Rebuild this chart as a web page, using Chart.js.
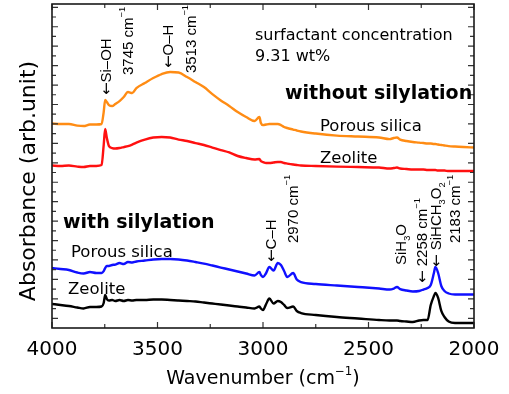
<!DOCTYPE html>
<html>
<head>
<meta charset="utf-8">
<script src="https://cdn.jsdelivr.net/npm/chart.js@4.4.1/dist/chart.umd.min.js"></script>
<style>
  html, body { margin: 0; padding: 0; background: #fff; }
  canvas { display: block; }
</style>
</head>
<body>
<canvas id="ftir" width="509" height="394"></canvas>
<script>
// FT-IR spectra, wavenumber in cm^-1, absorbance in arbitrary units (stacked)
const wavenumbers = [
  4000, 3960, 3920, 3880, 3850, 3820, 3790, 3765, 3755, 3748,
  3740, 3730, 3715, 3700, 3680, 3660, 3640, 3620, 3600, 3560,
  3520, 3480, 3440, 3400, 3360, 3320, 3280, 3240, 3200, 3160,
  3120, 3080, 3040, 3017, 3010, 3000, 2985, 2970, 2950, 2930,
  2915, 2900, 2885, 2857, 2840, 2820, 2750, 2650, 2550, 2450,
  2400, 2380, 2365, 2350, 2320, 2290, 2260, 2240, 2220, 2205,
  2190, 2183, 2170, 2155, 2140, 2120, 2090, 2050, 2000
];

// without silylation
const porousSilica = [
  2.104, 2.099, 2.099, 2.083, 2.078, 2.094, 2.094, 2.099, 2.222, 2.346,
  2.325, 2.294, 2.284, 2.305, 2.335, 2.377, 2.428, 2.418, 2.469, 2.521,
  2.572, 2.613, 2.634, 2.629, 2.582, 2.531, 2.479, 2.407, 2.342, 2.285,
  2.222, 2.171, 2.130, 2.171, 2.109, 2.088, 2.094, 2.099, 2.099, 2.099,
  2.088, 2.068, 2.058, 2.042, 2.032, 2.022, 2.001, 1.980, 1.970, 1.960,
  1.944, 1.955, 1.960, 1.939, 1.924, 1.914, 1.908, 1.903, 1.898, 1.898,
  1.893, 1.893, 1.888, 1.883, 1.878, 1.872, 1.867, 1.862, 1.857
];
const zeolite = [
  1.672, 1.667, 1.672, 1.661, 1.656, 1.667, 1.667, 1.677, 1.883, 2.047,
  1.955, 1.872, 1.852, 1.847, 1.852, 1.862, 1.872, 1.888, 1.908, 1.939,
  1.960, 1.965, 1.960, 1.939, 1.924, 1.903, 1.883, 1.857, 1.831, 1.806,
  1.770, 1.749, 1.734, 1.739, 1.718, 1.708, 1.698, 1.698, 1.703, 1.708,
  1.708, 1.698, 1.692, 1.682, 1.677, 1.672, 1.667, 1.661, 1.656, 1.651,
  1.641, 1.646, 1.651, 1.641, 1.636, 1.631, 1.631, 1.631, 1.626, 1.626,
  1.626, 1.626, 1.620, 1.620, 1.620, 1.615, 1.615, 1.615, 1.615
];

// with silylation
const porousSilicaSilylated = [
  0.617, 0.607, 0.597, 0.571, 0.561, 0.576, 0.566, 0.566, 0.586, 0.617,
  0.638, 0.638, 0.648, 0.653, 0.669, 0.658, 0.679, 0.674, 0.684, 0.694,
  0.705, 0.710, 0.710, 0.705, 0.694, 0.679, 0.663, 0.643, 0.622, 0.602,
  0.581, 0.561, 0.540, 0.576, 0.545, 0.525, 0.566, 0.628, 0.592, 0.669,
  0.648, 0.586, 0.525, 0.566, 0.499, 0.473, 0.453, 0.437, 0.422, 0.406,
  0.396, 0.406, 0.422, 0.401, 0.386, 0.376, 0.381, 0.396, 0.412, 0.442,
  0.566, 0.628, 0.566, 0.432, 0.381, 0.355, 0.345, 0.345, 0.345
];
const zeoliteSilylated = [
  0.247, 0.237, 0.226, 0.211, 0.201, 0.216, 0.216, 0.221, 0.257, 0.340,
  0.298, 0.283, 0.288, 0.278, 0.288, 0.278, 0.288, 0.283, 0.288, 0.288,
  0.293, 0.293, 0.288, 0.283, 0.278, 0.273, 0.262, 0.252, 0.242, 0.231,
  0.221, 0.211, 0.201, 0.221, 0.201, 0.185, 0.247, 0.303, 0.252, 0.278,
  0.267, 0.237, 0.206, 0.221, 0.175, 0.154, 0.134, 0.113, 0.098, 0.082,
  0.077, 0.077, 0.077, 0.072, 0.067, 0.062, 0.077, 0.082, 0.082, 0.237,
  0.329, 0.360, 0.309, 0.175, 0.113, 0.067, 0.051, 0.051, 0.051
];

const xTickLabels = [4000, 3500, 3000, 2500, 2000];
const xMinorStep = 250;
const yTickStep = 0.1;
const yMax = 3.334;

const SANS = '"DejaVu Sans", sans-serif';
const ARIAL = '"Liberation Sans", Arial, sans-serif';

function series(values) {
  return wavenumbers.map((w, i) => ({ x: w, y: values[i] }));
}

// Draws a run of text pieces along one baseline.
// Each piece: [text, mode, family?] with mode 'n' (normal), 'sub' or 'sup'.
function pieceFont(size, mode, family) {
  return (mode === 'n' ? size : size * 0.62) + 'px ' + family;
}
function drawRich(ctx, parts, x, y, size, family, angle) {
  ctx.save();
  ctx.translate(x, y);
  if (angle) ctx.rotate(angle);
  ctx.textBaseline = 'alphabetic';
  ctx.textAlign = 'left';
  let pos = 0;
  for (const [text, mode, fam] of parts) {
    const dy = mode === 'sub' ? size * 0.22 : (mode === 'sup' ? -size * 0.5 : 0);
    ctx.font = pieceFont(size, mode, fam || family);
    ctx.fillText(text, pos, dy);
    pos += ctx.measureText(text).width;
  }
  ctx.restore();
  return pos;
}
function richWidth(ctx, parts, size, family) {
  let w = 0;
  for (const [text, mode, fam] of parts) {
    ctx.font = pieceFont(size, mode, fam || family);
    w += ctx.measureText(text).width;
  }
  return w;
}

const ARROW = ['←', 'n', SANS];

// Vertical peak notes: column centred on a wavenumber, text starting at a given absorbance
const peakNotes = [
  { wn: 3748, from: 2.397, parts: [ARROW, ['Si–OH', 'n']] },
  { wn: 3643, from: 2.603, parts: [['3745 cm', 'n'], ['−1', 'sup']] },
  { wn: 3454, from: 2.675, parts: [ARROW, ['O–H', 'n']] },
  { wn: 3345, from: 2.623, parts: [['3513 cm', 'n'], ['−1', 'sup']] },
  { wn: 2966, from: 0.679, parts: [ARROW, ['C–H', 'n']] },
  { wn: 2862, from: 0.874, parts: [['2970 cm', 'n'], ['−1', 'sup']] },
  { wn: 2346, from: 0.648, parts: [['SiH', 'n'], ['3', 'sub'], ['O', 'n']] },
  { wn: 2246, from: 0.463, parts: [ARROW, [' 2258 cm', 'n'], ['−1', 'sup']] },
  { wn: 2180, from: 0.628, parts: [ARROW, [' SiHCH', 'n'], ['3', 'sub'], ['O', 'n'], ['2', 'sub']] },
  { wn: 2090, from: 0.874, parts: [['2183 cm', 'n'], ['−1', 'sup']] }
];

const framePlugin = {
  id: 'frame',
  afterDatasetsDraw(chart) {
    const { ctx, chartArea: a, scales: { x, y } } = chart;
    ctx.save();

    // ticks pointing inward on all four sides
    ctx.strokeStyle = '#333';
    ctx.lineWidth = 1.2;
    ctx.beginPath();
    for (let w = 2000; w <= 4000; w += xMinorStep) {
      const px = x.getPixelForValue(w);
      const len = (w % 500 === 0) ? 6 : 4;
      ctx.moveTo(px, a.bottom); ctx.lineTo(px, a.bottom - len);
      ctx.moveTo(px, a.top); ctx.lineTo(px, a.top + len);
    }
    for (let i = 1; i * yTickStep <= yMax; i++) {
      const py = y.getPixelForValue(i * yTickStep);
      const len = (i % 2 === 1) ? 6 : 4;
      ctx.moveTo(a.left, py); ctx.lineTo(a.left + len, py);
      ctx.moveTo(a.right, py); ctx.lineTo(a.right - len, py);
    }
    ctx.stroke();

    // plot frame
    ctx.strokeStyle = '#1a1a1a';
    ctx.lineWidth = 1.6;
    ctx.strokeRect(a.left, a.top, a.right - a.left, a.bottom - a.top);

    ctx.fillStyle = '#000';

    // x tick labels
    ctx.font = '20px ' + SANS;
    ctx.textAlign = 'center';
    ctx.textBaseline = 'alphabetic';
    for (const v of xTickLabels) {
      ctx.fillText(String(v), x.getPixelForValue(v), a.bottom + 27);
    }

    // axis titles
    const xTitle = [['Wavenumber (cm', 'n'], ['−1', 'sup'], [')', 'n']];
    const xw = richWidth(ctx, xTitle, 19, SANS);
    drawRich(ctx, xTitle, (a.left + a.right) / 2 - xw / 2, a.bottom + 56, 19, SANS, 0);

    const yTitle = [['Absorbance (arb.unit)', 'n']];
    const yw = richWidth(ctx, yTitle, 22, SANS);
    drawRich(ctx, yTitle, 35, 181 + yw / 2, 22, SANS, -Math.PI / 2);

    // condition and sample labels
    ctx.textAlign = 'left';
    ctx.font = '16px ' + SANS;
    ctx.fillText('surfactant concentration', 255, 40);
    ctx.fillText('9.31 wt%', 255, 61);
    ctx.font = 'bold 19px ' + SANS;
    ctx.fillText('without silylation', 285, 99);
    ctx.fillText('with silylation', 63, 228);
    ctx.font = '16.5px ' + SANS;
    ctx.fillText('Porous silica', 320, 131);
    ctx.fillText('Zeolite', 320, 162.5);
    ctx.fillText('Porous silica', 71, 256.5);
    ctx.fillText('Zeolite', 68, 294);

    // peak assignments, read bottom to top
    const noteSize = 15;
    for (const n of peakNotes) {
      const cx = x.getPixelForValue(n.wn);
      const by = y.getPixelForValue(n.from);
      drawRich(ctx, n.parts, cx + noteSize * 0.36, by, noteSize, ARIAL, -Math.PI / 2);
    }
    ctx.restore();
  }
};

new Chart(document.getElementById('ftir'), {
  type: 'line',
  data: {
    datasets: [
      { label: 'Porous silica', data: series(porousSilica), borderColor: '#ff8c14' },
      { label: 'Zeolite', data: series(zeolite), borderColor: '#ff1010' },
      { label: 'Porous silica (silylated)', data: series(porousSilicaSilylated), borderColor: '#1010ff' },
      { label: 'Zeolite (silylated)', data: series(zeoliteSilylated), borderColor: '#000000' }
    ]
  },
  options: {
    responsive: false,
    animation: false,
    devicePixelRatio: 1,
    layout: { padding: { left: 52, top: 4, right: 35, bottom: 66 } },
    elements: {
      point: { radius: 0 },
      line: { borderWidth: 2.4, cubicInterpolationMode: 'monotone', fill: false }
    },
    plugins: { legend: { display: false }, tooltip: { enabled: false } },
    scales: {
      x: { type: 'linear', reverse: true, min: 2000, max: 4000, display: false },
      y: { type: 'linear', min: 0, max: yMax, display: false }
    }
  },
  plugins: [framePlugin]
});
</script>
</body>
</html>
